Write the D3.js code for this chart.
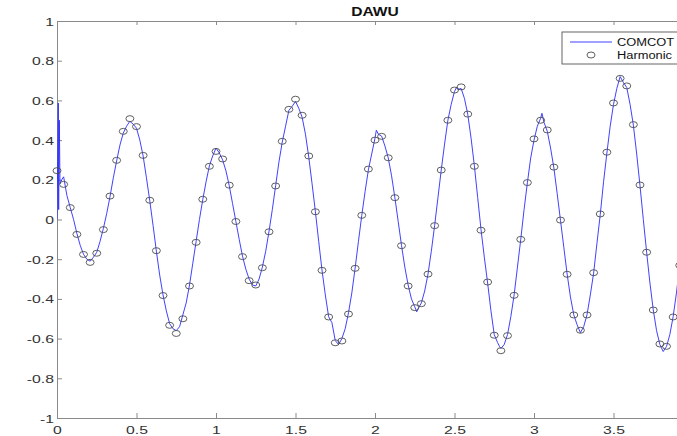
<!DOCTYPE html>
<html>
<head>
<meta charset="utf-8">
<script src="https://cdn.jsdelivr.net/npm/d3@7.9.0/dist/d3.min.js"></script>
<style>
  body { margin: 0; background: #fff; }
  svg { display: block; font-family: "Liberation Sans", Arial, sans-serif; }
</style>
</head>
<body>
<div id="chart"></div>
<script>
const width = 677;
const height = 436;

const title = "DAWU";
const xTicks = [0, 0.5, 1, 1.5, 2, 2.5, 3, 3.5];
const yTicks = [-1, -0.8, -0.6, -0.4, -0.2, 0, 0.2, 0.4, 0.6, 0.8, 1];
const seriesNames = ["COMCOT", "Harmonic"];

// Harmonic prediction, one value per hour (time axis is in days)
const harmonicLevel = [
  0.246, 0.177, 0.060, -0.075, -0.176, -0.216, -0.170, -0.051, 0.118, 0.298,
  0.444, 0.508, 0.468, 0.323, 0.097, -0.157, -0.383, -0.533, -0.574, -0.500,
  -0.335, -0.115, 0.102, 0.268, 0.343, 0.305, 0.173, -0.010, -0.187, -0.308,
  -0.330, -0.243, -0.062, 0.169, 0.394, 0.555, 0.606, 0.525, 0.320, 0.039,
  -0.256, -0.491, -0.621, -0.612, -0.476, -0.246, 0.021, 0.254, 0.400, 0.419,
  0.311, 0.110, -0.132, -0.335, -0.444, -0.424, -0.275, -0.031, 0.249, 0.500,
  0.652, 0.668, 0.531, 0.268, -0.054, -0.315, -0.583, -0.661, -0.585, -0.382,
  -0.100, 0.186, 0.406, 0.500, 0.451, 0.264, -0.003, -0.276, -0.481, -0.558,
  -0.481, -0.268, 0.028, 0.339, 0.587, 0.711, 0.673, 0.478, 0.174, -0.165,
  -0.456, -0.627, -0.639, -0.491, -0.231
];

// COMCOT model output: [hour, level]
const comcot = [
  [0, 0], [0.2, 0.587], [0.25, 0.05], [0.35, 0.5], [0.45, 0.18], [0.7, 0.2],
  [1, 0.215], [1.5, 0.12], [2, 0.06], [2.5, 0.0], [3, -0.07], [3.5, -0.13],
  [4, -0.175], [4.5, -0.2], [5, -0.21], [5.5, -0.19], [6, -0.165], [6.5, -0.11],
  [7, -0.045], [7.5, 0.03], [8, 0.115], [8.5, 0.21], [9, 0.295], [9.5, 0.375],
  [10, 0.435], [10.5, 0.47], [11, 0.495], [11.5, 0.48], [12, 0.46], [12.5, 0.4],
  [13, 0.32], [13.5, 0.21], [14, 0.095], [14.5, -0.03], [15, -0.16], [15.5, -0.28],
  [16, -0.38], [16.5, -0.46], [17, -0.525], [17.5, -0.55], [18, -0.56], [18.5, -0.54],
  [19, -0.48], [19.5, -0.42], [20, -0.33], [20.5, -0.22], [21, -0.11], [21.5, 0.0],
  [22, 0.1], [22.5, 0.19], [23, 0.27], [23.5, 0.32], [24, 0.36], [24.5, 0.335],
  [25, 0.3], [25.5, 0.245], [26, 0.17], [26.5, 0.08], [27, -0.01], [27.5, -0.1],
  [28, -0.185], [28.5, -0.25], [29, -0.3], [29.5, -0.33], [30, -0.335], [30.5, -0.3],
  [31, -0.24], [31.5, -0.16], [32, -0.06], [32.5, 0.05], [33, 0.17], [33.5, 0.29],
  [34, 0.39], [34.5, 0.47], [35, 0.55], [35.5, 0.57], [36, 0.595], [36.5, 0.56],
  [37, 0.515], [37.5, 0.43], [38, 0.315], [38.5, 0.18], [39, 0.04], [39.5, -0.11],
  [40, -0.255], [40.5, -0.38], [41, -0.49], [41.5, -0.52], [42, -0.61], [42.5, -0.63],
  [43, -0.6], [43.5, -0.55], [44, -0.47], [44.5, -0.37], [45, -0.245], [45.5, -0.11],
  [46, 0.02], [46.5, 0.14], [47, 0.25], [47.5, 0.33], [48, 0.41], [48.2, 0.45],
  [48.5, 0.43], [49, 0.42], [49.5, 0.37], [50, 0.31], [50.5, 0.22], [51, 0.11],
  [51.5, -0.01], [52, -0.13], [52.5, -0.24], [53, -0.33], [53.5, -0.4], [54, -0.44],
  [54.3, -0.465], [54.5, -0.45], [55, -0.42], [55.5, -0.36], [56, -0.275], [56.5, -0.16],
  [57, -0.03], [57.5, 0.11], [58, 0.25], [58.5, 0.38], [59, 0.5], [59.5, 0.58],
  [60, 0.645], [60.3, 0.665], [60.5, 0.655], [61, 0.66], [61.5, 0.61], [62, 0.53],
  [62.5, 0.41], [63, 0.27], [63.5, 0.11], [64, -0.05], [64.5, -0.19], [65, -0.32],
  [65.5, -0.46], [66, -0.58], [66.5, -0.62], [66.8, -0.64], [67, -0.65], [67.5, -0.63],
  [68, -0.58], [68.5, -0.49], [69, -0.38], [69.5, -0.24], [70, -0.1], [70.5, 0.05],
  [71, 0.185], [71.5, 0.31], [72, 0.4], [72.5, 0.47], [73, 0.51], [73.2, 0.535],
  [73.5, 0.49], [74, 0.445], [74.5, 0.36], [75, 0.26], [75.5, 0.13], [76, -0.005],
  [76.5, -0.14], [77, -0.275], [77.5, -0.39], [78, -0.48], [78.5, -0.53], [79, -0.57],
  [79.5, -0.54], [80, -0.48], [80.5, -0.38], [81, -0.27], [81.5, -0.12], [82, 0.025],
  [82.5, 0.19], [83, 0.335], [83.5, 0.47], [84, 0.58], [84.5, 0.66], [85, 0.72],
  [85.5, 0.69], [86, 0.665], [86.5, 0.58], [87, 0.475], [87.5, 0.33], [88, 0.17],
  [88.5, 0.0], [89, -0.165], [89.5, -0.32], [90, -0.455], [90.5, -0.56], [91, -0.63],
  [91.5, -0.665], [92, -0.64], [92.5, -0.58], [93, -0.49], [93.5, -0.37], [94, -0.23],
  [94.5, -0.09], [95, 0.05], [96, 0.3]
];

const margin = { top: 21, left: 57, bottom: 418, right: 693 };
const axisColor = "#8a8a8a";
const textColor = "#333";

const svg = d3.select("#chart")
  .append("svg")
  .attr("width", width)
  .attr("height", height);

const xScale = d3.scaleLinear()
  .domain([0, 4])
  .range([margin.left, margin.right]);

const yScale = d3.scaleLinear()
  .domain([-1, 1])
  .range([margin.bottom, margin.top]);

svg.append("clipPath")
  .attr("id", "plotClip")
  .append("rect")
  .attr("x", margin.left)
  .attr("y", margin.top)
  .attr("width", margin.right - margin.left)
  .attr("height", margin.bottom - margin.top);

const fmt = d => String(+d.toFixed(1));

// bottom axis
const xAxis = svg.append("g")
  .attr("transform", `translate(0, ${margin.bottom})`)
  .call(d3.axisBottom(xScale).tickValues(xTicks).tickSizeInner(-5).tickSizeOuter(0).tickFormat(fmt));

// top axis (box)
const topAxis = svg.append("g")
  .attr("transform", `translate(0, ${margin.top})`)
  .call(d3.axisTop(xScale).tickValues(xTicks).tickSizeInner(-4).tickSizeOuter(0).tickFormat(""));

// left axis
const yAxis = svg.append("g")
  .attr("transform", `translate(${margin.left}, 0)`)
  .call(d3.axisLeft(yScale).tickValues(yTicks).tickSizeInner(-5).tickSizeOuter(0).tickFormat(fmt));

[xAxis, topAxis, yAxis].forEach(g => {
  g.select(".domain").attr("stroke", axisColor).attr("stroke-width", 1);
  g.selectAll(".tick line").attr("stroke", axisColor).attr("stroke-width", 1);
});

xAxis.selectAll(".tick text")
  .attr("x", null).attr("y", null).attr("dy", null)
  .attr("transform", "translate(0, 16) scale(1.5, 1)")
  .attr("fill", textColor)
  .style("font-size", "10.5px");

yAxis.selectAll(".tick text")
  .attr("x", null).attr("dy", null)
  .attr("transform", "translate(-3, 4) scale(1.5, 1)")
  .attr("text-anchor", "end")
  .attr("fill", textColor)
  .style("font-size", "10.5px");

// title
svg.append("text")
  .attr("transform", `translate(${(margin.left + margin.right) / 2}, 16) scale(1.3, 1)`)
  .attr("text-anchor", "middle")
  .attr("fill", "#111")
  .style("font-size", "12px")
  .style("font-weight", "bold")
  .text(title);

const line = d3.line()
  .x(d => xScale(d[0] / 24))
  .y(d => yScale(d[1]));

svg.append("g")
  .attr("clip-path", "url(#plotClip)")
  .append("path")
  .datum(comcot)
  .attr("fill", "none")
  .attr("stroke", "#2b2bff")
  .attr("stroke-width", 0.9)
  .attr("d", line);

// markers are not clipped, like in the original
svg.append("g")
  .selectAll(".harm")
  .data(harmonicLevel)
  .join("ellipse")
  .attr("class", "harm")
  .attr("cx", (d, i) => xScale(i / 24))
  .attr("cy", d => yScale(d))
  .attr("rx", 4)
  .attr("ry", 3)
  .attr("fill", "none")
  .attr("stroke", "#4d4d4d")
  .attr("stroke-width", 0.9);

// legend
const legend = svg.append("g");
legend.append("rect")
  .attr("x", 562).attr("y", 32)
  .attr("width", 126).attr("height", 32)
  .attr("fill", "#fff")
  .attr("stroke", "#555")
  .attr("stroke-width", 0.9);

legend.append("line")
  .attr("x1", 570).attr("x2", 612)
  .attr("y1", 42).attr("y2", 42)
  .attr("stroke", "#2b2bff")
  .attr("stroke-width", 0.9);

legend.append("ellipse")
  .attr("cx", 591).attr("cy", 55)
  .attr("rx", 4).attr("ry", 3)
  .attr("fill", "none")
  .attr("stroke", "#4d4d4d")
  .attr("stroke-width", 0.9);

legend.selectAll(".legtext")
  .data(seriesNames)
  .join("text")
  .attr("class", "legtext")
  .attr("transform", (d, i) => `translate(617, ${46 + i * 13}) scale(1.12, 1)`)
  .attr("fill", "#111")
  .style("font-size", "11.5px")
  .text(d => d);
</script>
</body>
</html>
